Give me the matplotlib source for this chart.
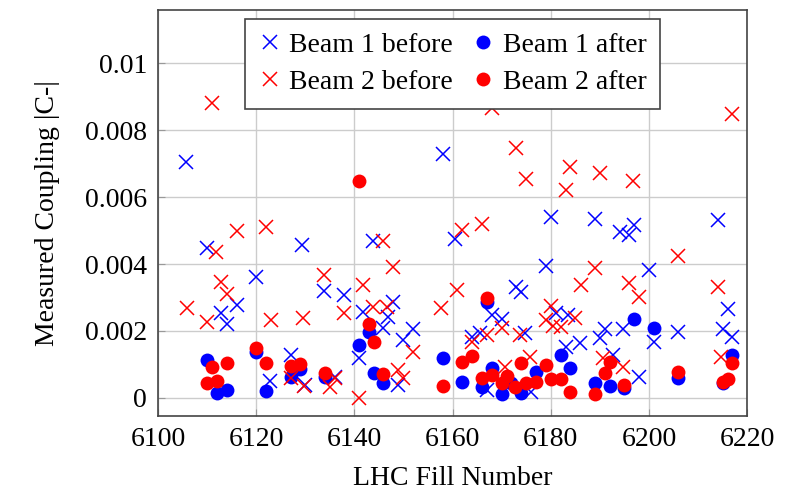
#!/usr/bin/env python3

import numpy as np
import matplotlib
matplotlib.use('Agg')
from matplotlib import pyplot as plt
from matplotlib.ticker import FuncFormatter

plt.rcParams['font.family'] = ['Liberation Serif', 'DejaVu Serif']
plt.rcParams['mathtext.fontset'] = 'stix'

# Beam 1 before (blue crosses)
b1_before_fill = [6105.7, 6110, 6112.8, 6114, 6116, 6120, 6122.8, 6127, 6129.3, 6130,
                  6133.8, 6136, 6137.9, 6141, 6141.8, 6143.8, 6145.8, 6146.9, 6147.9, 6148.9,
                  6149.9, 6151.9, 6158, 6160.5, 6164, 6165.6, 6167, 6168, 6170, 6173,
                  6174, 6174.7, 6176, 6179, 6180, 6181, 6183, 6183.5, 6186, 6189,
                  6190, 6191, 6192.7, 6194, 6194.7, 6196, 6197, 6198, 6200, 6201,
                  6206, 6214, 6215, 6216, 6217]
b1_before_c = [0.00704, 0.00448, 0.00253, 0.0022, 0.00278, 0.0036, 0.0005, 0.00127, 0.00456, 0.00039,
               0.0032, 0.00063, 0.00307, 0.0012, 0.00257, 0.00469, 0.00209, 0.00242, 0.00287, 0.00039,
               0.00173, 0.00206, 0.0073, 0.00474, 0.00182, 0.00194, 0.00024, 0.00248, 0.00236, 0.00331,
               0.00316, 0.00194, 0.00018, 0.00394, 0.0054, 0.00254, 0.00152, 0.00248, 0.00164, 0.00534,
               0.00179, 0.00206, 0.00128, 0.00496, 0.00206, 0.00487, 0.00518, 0.00063, 0.00382, 0.00167,
               0.00197, 0.00532, 0.00206, 0.00266, 0.00182]

# Beam 2 before (red crosses)
b2_before_fill = [6105.9, 6110, 6111, 6111.8, 6112.8, 6114, 6116, 6122, 6123, 6127,
                  6129.5, 6129.8, 6133.8, 6135, 6136, 6137.9, 6141, 6141.8, 6143.8, 6145.8,
                  6146.7, 6147.9, 6148.9, 6149.9, 6151.9, 6157.6, 6161, 6162, 6164, 6166,
                  6167, 6168, 6170, 6170.7, 6173, 6173.7, 6175, 6175.7, 6179, 6180,
                  6180.5, 6182, 6183, 6184, 6185, 6186.2, 6189, 6190, 6190.6, 6194.7,
                  6196, 6196.7, 6198, 6206, 6214, 6214.6, 6217]
b2_before_c = [0.00269, 0.00227, 0.0088, 0.00436, 0.00346, 0.00311, 0.005, 0.0051, 0.00233, 0.0006,
               0.0024, 0.00036, 0.00367, 0.00033, 0.0006, 0.00254, 0.0, 0.00336, 0.00272, 0.00469,
               0.00272, 0.00391, 0.00084, 0.0006, 0.00137, 0.0027, 0.00322, 0.00502, 0.00167, 0.0052,
               0.00188, 0.00866, 0.00209, 0.00093, 0.00746, 0.00188, 0.00654, 0.00122, 0.00233, 0.00275,
               0.00215, 0.00212, 0.0062, 0.0069, 0.00239, 0.00338, 0.00388, 0.00672, 0.0012, 0.00093,
               0.00343, 0.00648, 0.00302, 0.00424, 0.00331, 0.00122, 0.0085]

# Beam 1 after (blue dots)
b1_after_fill = [6110, 6112, 6114, 6120, 6122, 6127, 6129, 6134, 6141, 6143,
                 6144, 6145.8, 6158, 6162, 6166, 6167, 6168, 6170, 6172, 6174,
                 6177, 6182, 6184, 6189, 6192, 6195, 6197, 6201, 6206, 6215, 6217]
b1_after_c = [0.00113, 0.00015, 0.00024, 0.00137, 0.00021, 0.00063, 0.00087, 0.00063, 0.00158, 0.00197,
              0.00075, 0.00045, 0.0012, 0.00048, 0.00033, 0.00287, 0.0009, 0.0001, 0.00045, 0.00015,
              0.00078, 0.00128, 0.0009, 0.00045, 0.00036, 0.0003, 0.00236, 0.00209, 0.0006, 0.00045, 0.00128]

# Beam 2 after (red dots)
b2_after_fill = [6110, 6111, 6112, 6114, 6120, 6122, 6127, 6129, 6134, 6141,
                 6143, 6144, 6145.8, 6158, 6162, 6164, 6166, 6167, 6168, 6170,
                 6171, 6172.7, 6174, 6175, 6177, 6179, 6180, 6182, 6184, 6189,
                 6191, 6192, 6195, 6206, 6215, 6216, 6217]
b2_after_c = [0.00045, 0.00093, 0.00051, 0.00104, 0.00149, 0.00104, 0.00096, 0.00101, 0.00075, 0.00648,
              0.0022, 0.00167, 0.00072, 0.00036, 0.00107, 0.00125, 0.0006, 0.00299, 0.00069, 0.00045,
              0.00066, 0.00033, 0.00104, 0.00045, 0.00048, 0.00099, 0.00057, 0.00057, 0.00018, 0.0001,
              0.00075, 0.00107, 0.00039, 0.00078, 0.00048, 0.00057, 0.00104]

x_ticks = [6100, 6120, 6140, 6160, 6180, 6200, 6220]
y_ticks = [0, 0.002, 0.004, 0.006, 0.008, 0.01]

fig = plt.figure(figsize=(7.94, 4.92), dpi=100)
ax = fig.add_axes([0.199, 0.154, 0.742, 0.826])

b1b, = ax.plot(b1_before_fill, b1_before_c, 'x', color='blue', ms=10, mew=1.1, label='Beam 1 before')
b1a, = ax.plot(b1_after_fill, b1_after_c, 'o', color='blue', ms=10, mew=0, label='Beam 1 after')
b2b, = ax.plot(b2_before_fill, b2_before_c, 'x', color='red', ms=10, mew=1.1, label='Beam 2 before')
b2a, = ax.plot(b2_after_fill, b2_after_c, 'o', color='red', ms=10, mew=0, label='Beam 2 after')

ax.set_xlim(6100, 6220)
ax.set_ylim(-0.00055, 0.0116)
ax.set_xticks(x_ticks)
ax.set_yticks(y_ticks)
ax.yaxis.set_major_formatter(FuncFormatter(lambda v, p: '%g' % v))
ax.grid(True, color='#cccccc', lw=1)
ax.set_axisbelow(True)
ax.tick_params(direction='in', length=5, color='#999999', labelsize=20, pad=8)
for s in ax.spines.values():
    s.set_color('#444444')
    s.set_linewidth(1.2)

ax.set_xlabel('LHC Fill Number', fontsize=20, labelpad=10)
ax.set_ylabel('Measured Coupling |C-|', fontsize=20, labelpad=18)

leg = ax.legend([b1b, b2b, b1a, b2a], ['Beam 1 before', 'Beam 2 before', 'Beam 1 after', 'Beam 2 after'],
                ncol=2, loc='upper center', bbox_to_anchor=(0.5, 0.978), fontsize=20,
                fancybox=False, framealpha=1, edgecolor='#444444', handlelength=0.8,
                handletextpad=0.3, columnspacing=0.7, borderpad=0.5, labelspacing=0.4,
                borderaxespad=0, markerscale=1.0)
leg.get_frame().set_linewidth(1.2)

fig.savefig('out.png', dpi=100)
